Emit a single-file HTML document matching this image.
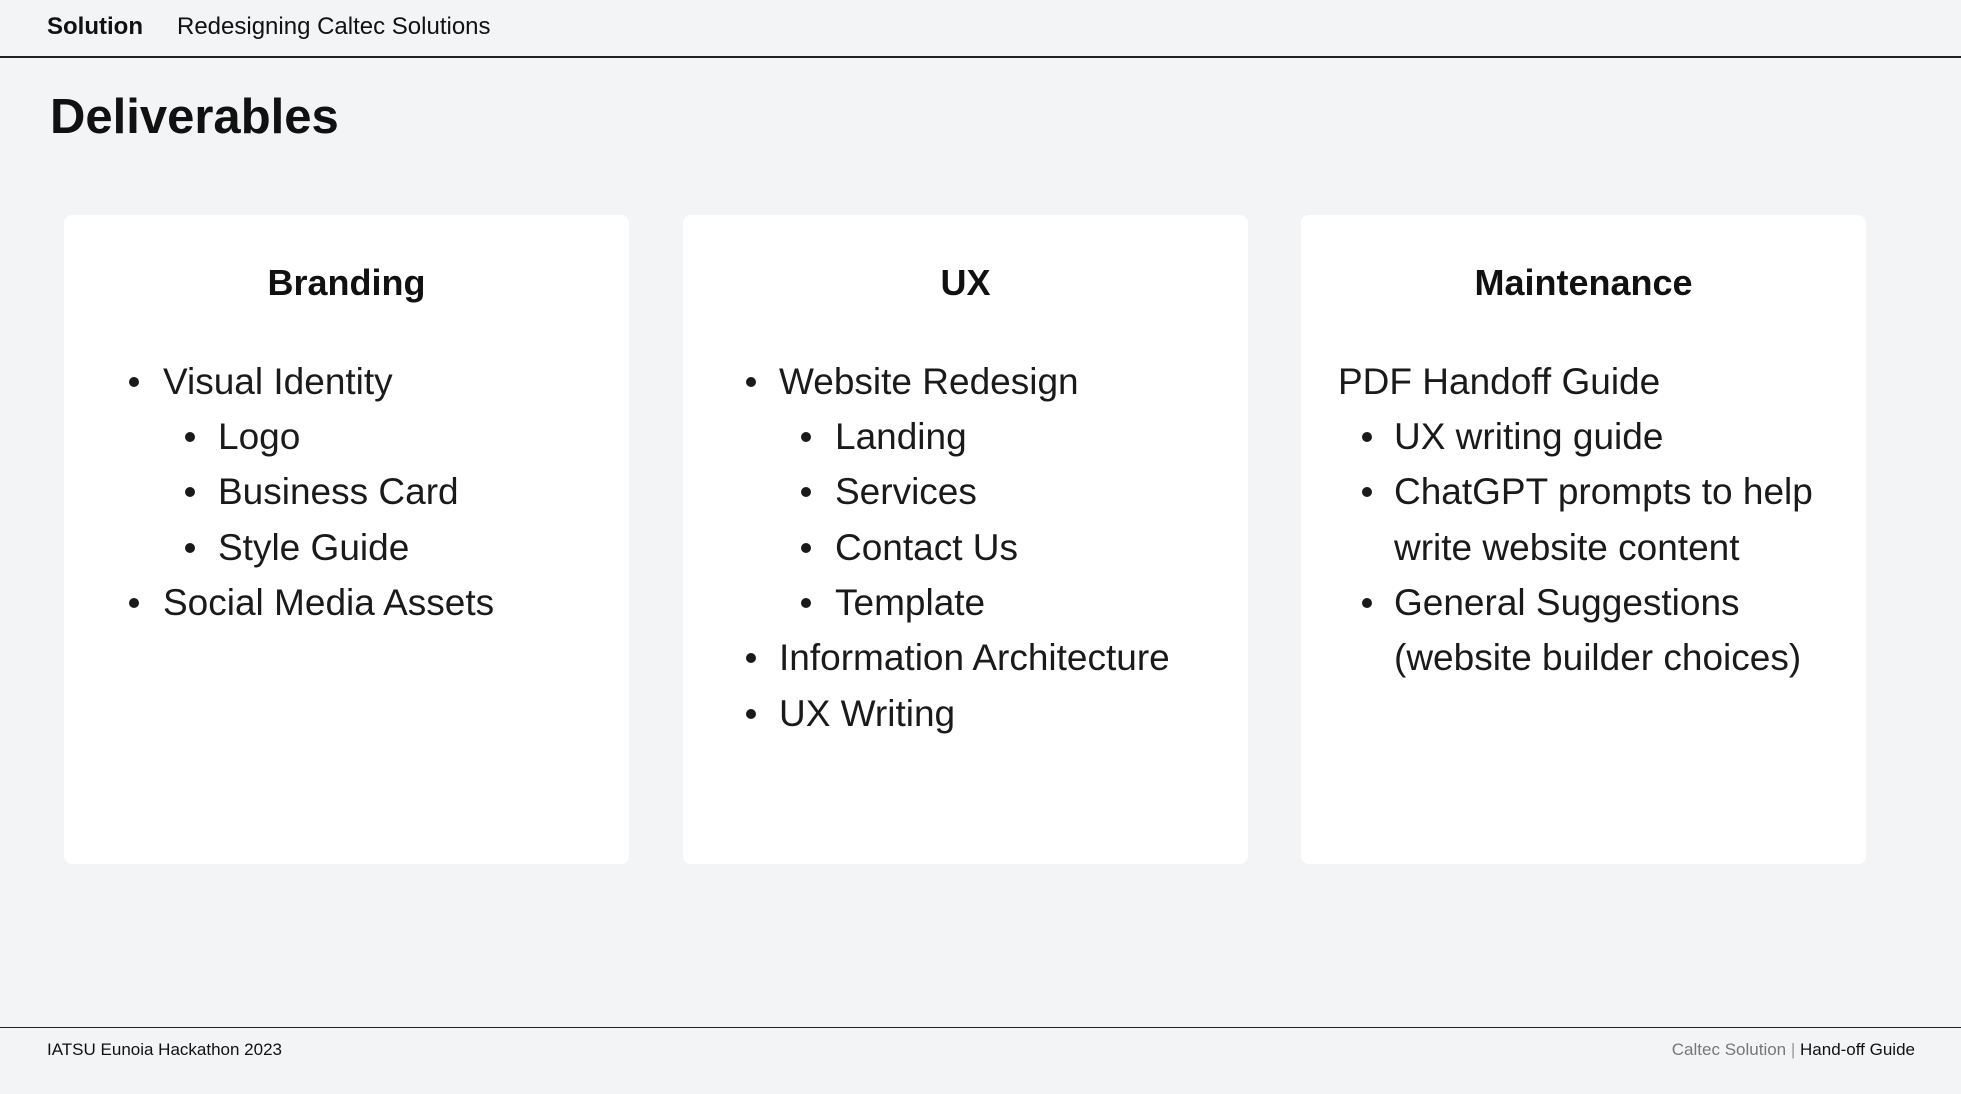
<!DOCTYPE html>
<html><head><meta charset="utf-8"><style>
body{margin:0;width:1961px;height:1094px;background:#f3f4f6;font-family:"Liberation Sans",sans-serif;color:#111;position:relative;overflow:hidden}
.a{position:absolute;white-space:nowrap}
.card{position:absolute;top:215px;width:565px;height:649px;background:#fff;border-radius:8px}
.t{position:absolute;font-size:36px;font-weight:bold;width:565px;text-align:center;top:262px}
.li{position:absolute;font-size:37px;white-space:nowrap;line-height:44px;color:#1a1a1a}
.d{position:absolute;width:10px;height:10px;border-radius:50%;background:#1a1a1a}
</style></head><body>
<div class="a" style="left:47px;top:13px;font-size:24px;font-weight:bold">Solution</div>
<div class="a" style="left:177px;top:13px;font-size:24px">Redesigning Caltec Solutions</div>
<div class="a" style="left:0;top:56px;width:1961px;height:2px;background:#222"></div>
<div class="a" style="left:50px;top:89px;font-size:49px;font-weight:bold">Deliverables</div>

<div class="card" style="left:64px"></div>
<div class="card" style="left:683px"></div>
<div class="card" style="left:1301px"></div>
<div class="t" style="left:64px">Branding</div>
<div class="t" style="left:683px">UX</div>
<div class="t" style="left:1301px">Maintenance</div>

<!-- Branding -->
<div class="d" style="left:129px;top:377px"></div><div class="li" style="left:163px;top:360px">Visual Identity</div>
<div class="d" style="left:185px;top:432px"></div><div class="li" style="left:218px;top:415px">Logo</div>
<div class="d" style="left:185px;top:487px"></div><div class="li" style="left:218px;top:470px">Business Card</div>
<div class="d" style="left:185px;top:543px"></div><div class="li" style="left:218px;top:526px">Style Guide</div>
<div class="d" style="left:129px;top:598px"></div><div class="li" style="left:163px;top:581px">Social Media Assets</div>

<!-- UX -->
<div class="d" style="left:746px;top:377px"></div><div class="li" style="left:779px;top:360px">Website Redesign</div>
<div class="d" style="left:801px;top:432px"></div><div class="li" style="left:835px;top:415px">Landing</div>
<div class="d" style="left:801px;top:487px"></div><div class="li" style="left:835px;top:470px">Services</div>
<div class="d" style="left:801px;top:543px"></div><div class="li" style="left:835px;top:526px">Contact Us</div>
<div class="d" style="left:801px;top:598px"></div><div class="li" style="left:835px;top:581px">Template</div>
<div class="d" style="left:746px;top:653px"></div><div class="li" style="left:779px;top:636px">Information Architecture</div>
<div class="d" style="left:746px;top:709px"></div><div class="li" style="left:779px;top:692px">UX Writing</div>

<!-- Maintenance -->
<div class="li" style="left:1338px;top:360px">PDF Handoff Guide</div>
<div class="d" style="left:1362px;top:432px"></div><div class="li" style="left:1394px;top:415px">UX writing guide</div>
<div class="d" style="left:1362px;top:487px"></div><div class="li" style="left:1394px;top:470px">ChatGPT prompts to help</div>
<div class="li" style="left:1394px;top:526px">write website content</div>
<div class="d" style="left:1362px;top:598px"></div><div class="li" style="left:1394px;top:581px">General Suggestions</div>
<div class="li" style="left:1394px;top:636px">(website builder choices)</div>

<div class="a" style="left:0;top:1027px;width:1961px;height:1px;background:#222"></div>
<div class="a" style="left:47px;top:1040px;font-size:17px">IATSU Eunoia Hackathon 2023</div>
<div class="a" style="right:46px;top:1040px;font-size:17px"><span style="color:#777">Caltec Solution</span> <span style="color:#999">|</span> Hand-off Guide</div>
</body></html>
